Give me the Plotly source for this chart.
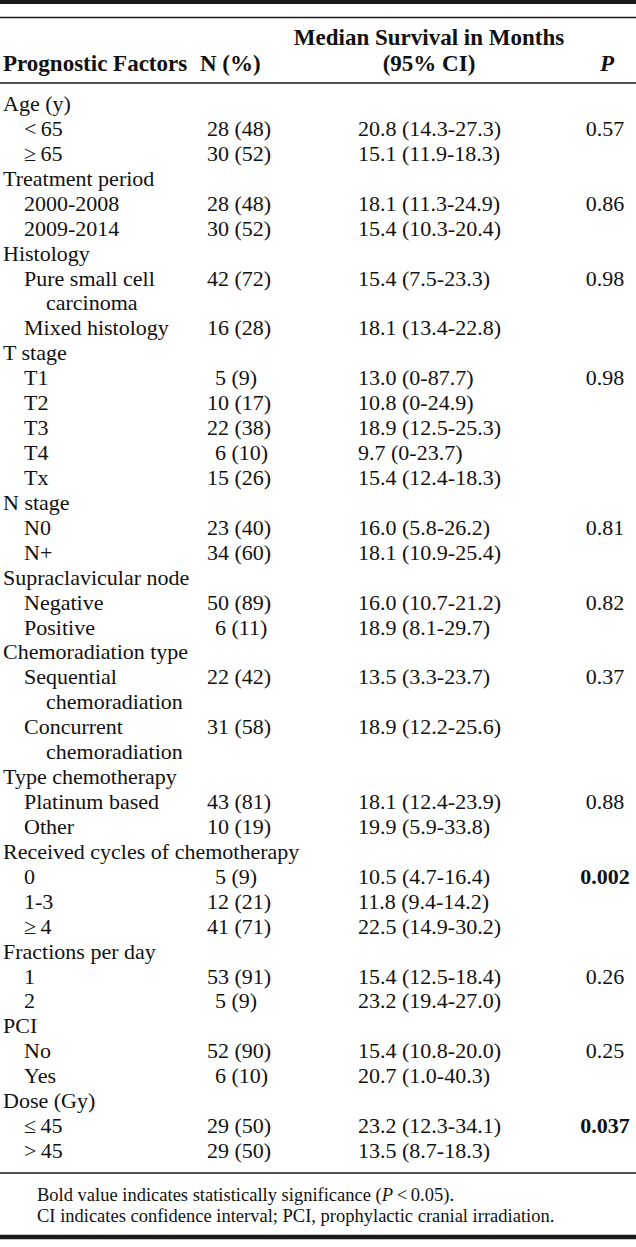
import plotly.graph_objects as go

# table content
row_labels = [
    "Age (y)", "<\u200965", "\u2265\u200965",
    "Treatment period", "2000-2008", "2009-2014",
    "Histology", "Pure small cell", "carcinoma", "Mixed histology",
    "T stage", "T1", "T2", "T3", "T4", "Tx",
    "N stage", "N0", "N+",
    "Supraclavicular node", "Negative", "Positive",
    "Chemoradiation type", "Sequential", "chemoradiation", "Concurrent", "chemoradiation",
    "Type chemotherapy", "Platinum based", "Other",
    "Received cycles of chemotherapy", "0", "1-3", "\u2265\u20094",
    "Fractions per day", "1", "2",
    "PCI", "No", "Yes",
    "Dose (Gy)", "\u2264\u200945", ">\u200945",
]
# 0 = factor heading, 1 = level, 2 = wrapped continuation of a level
row_level = [
    0, 1, 1,
    0, 1, 1,
    0, 1, 2, 1,
    0, 1, 1, 1, 1, 1,
    0, 1, 1,
    0, 1, 1,
    0, 1, 2, 1, 2,
    0, 1, 1,
    0, 1, 1, 1,
    0, 1, 1,
    0, 1, 1,
    0, 1, 1,
]
n_pct = [
    "", "28 (48)", "30 (52)",
    "", "28 (48)", "30 (52)",
    "", "42 (72)", "", "16 (28)",
    "", "5 (9)", "10 (17)", "22 (38)", "6 (10)", "15 (26)",
    "", "23 (40)", "34 (60)",
    "", "50 (89)", "6 (11)",
    "", "22 (42)", "", "31 (58)", "",
    "", "43 (81)", "10 (19)",
    "", "5 (9)", "12 (21)", "41 (71)",
    "", "53 (91)", "5 (9)",
    "", "52 (90)", "6 (10)",
    "", "29 (50)", "29 (50)",
]
median_ci = [
    "", "20.8 (14.3-27.3)", "15.1 (11.9-18.3)",
    "", "18.1 (11.3-24.9)", "15.4 (10.3-20.4)",
    "", "15.4 (7.5-23.3)", "", "18.1 (13.4-22.8)",
    "", "13.0 (0-87.7)", "10.8 (0-24.9)", "18.9 (12.5-25.3)", "9.7 (0-23.7)", "15.4 (12.4-18.3)",
    "", "16.0 (5.8-26.2)", "18.1 (10.9-25.4)",
    "", "16.0 (10.7-21.2)", "18.9 (8.1-29.7)",
    "", "13.5 (3.3-23.7)", "", "18.9 (12.2-25.6)", "",
    "", "18.1 (12.4-23.9)", "19.9 (5.9-33.8)",
    "", "10.5 (4.7-16.4)", "11.8 (9.4-14.2)", "22.5 (14.9-30.2)",
    "", "15.4 (12.5-18.4)", "23.2 (19.4-27.0)",
    "", "15.4 (10.8-20.0)", "20.7 (1.0-40.3)",
    "", "23.2 (12.3-34.1)", "13.5 (8.7-18.3)",
]
p_values = [
    "", "0.57", "",
    "", "0.86", "",
    "", "0.98", "", "",
    "", "0.98", "", "", "", "",
    "", "0.81", "",
    "", "0.82", "",
    "", "0.37", "", "", "",
    "", "0.88", "",
    "", "0.002", "", "",
    "", "0.26", "",
    "", "0.25", "",
    "", "0.037", "",
]
significant = ["0.002", "0.037"]

footnotes = [
    "Bold value indicates statistically significance (<i>P</i>\u2009<\u20090.05).",
    "CI indicates confidence interval; PCI, prophylactic cranial irradiation.",
]

FONT = "Liberation Serif"
SIZE = 22
HEAD_SIZE = 23
INK = "#111111"
ROW_TOP = 105.5
ROW_STEP = 24.93
indent = {0: 3, 1: 24, 2: 46}

row_y = [ROW_TOP + i * ROW_STEP for i in range(len(row_labels))]


def text_trace(xs, ys, texts, position="middle right", size=SIZE):
    return go.Scatter(
        x=xs, y=ys, text=texts, mode="text", textposition=position,
        textfont=dict(family=FONT, size=size, color=INK),
        hoverinfo="skip", showlegend=False, cliponaxis=False,
    )


fig = go.Figure()

# header
fig.add_trace(text_trace([3, 200], [65, 65],
                         ["<b>Prognostic Factors</b>", "<b>N (%)</b>"], size=HEAD_SIZE))
fig.add_trace(text_trace([429, 429, 607], [39, 65, 65],
                         ["<b>Median Survival in Months</b>", "<b>(95% CI)</b>",
                          "<b><i>P</i></b>"], position="middle center", size=HEAD_SIZE))

# body
fig.add_trace(text_trace([indent[l] for l in row_level], row_y, row_labels))
n_x = [215 if len(v.split(" ")[0]) == 1 else 207 for v in n_pct]
fig.add_trace(text_trace(n_x, row_y, n_pct))
fig.add_trace(text_trace([358] * len(row_y), row_y, median_ci))
fig.add_trace(text_trace([605] * len(row_y), row_y,
                         [f"<b>{p}</b>" if p in significant else p for p in p_values],
                         position="middle center"))

# footnotes
fig.add_trace(text_trace([37, 37], [1196, 1217], footnotes, size=18.5))

rules = [(2, 4), (17.5, 1.6), (83, 1.6), (1173, 1.6), (1237, 4.5)]
for y, w in rules:
    fig.add_shape(type="line", xref="paper", yref="y", x0=0, x1=1, y0=y, y1=y,
                  line=dict(color="#1a1a1a", width=w))

fig.update_layout(
    width=636, height=1247, autosize=False,
    margin=dict(l=0, r=0, t=0, b=0),
    paper_bgcolor="white", plot_bgcolor="white",
    xaxis=dict(range=[0, 636], visible=False, fixedrange=True),
    yaxis=dict(range=[1247, 0], visible=False, fixedrange=True),
)

fig.write_html("out.html", config={"displayModeBar": False},
               post_script="document.body.style.margin='0';document.body.style.overflow='hidden';")
